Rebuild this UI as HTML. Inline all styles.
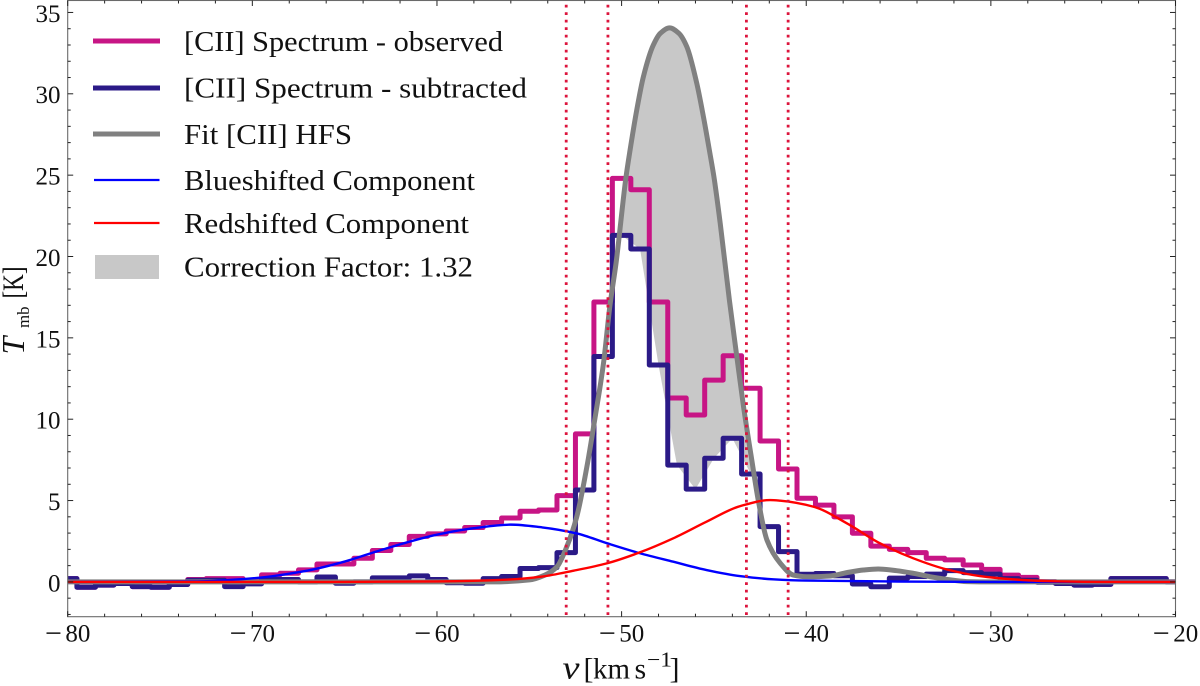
<!DOCTYPE html>
<html lang="en">
<head>
<meta charset="utf-8">
<title>[CII] spectrum with HFS fit</title>
<style>
html,body{margin:0;padding:0;background:#fff;width:1200px;height:686px;overflow:hidden}
svg{display:block}
text{font-family:"Liberation Serif",serif;fill:#111}
</style>
</head>
<body>
<svg id="chart" xmlns="http://www.w3.org/2000/svg" width="1200" height="686" viewBox="0 0 1200 686">
  <defs><clipPath id="plot-clip"><rect x="67.7" y="0.5" width="1107.8" height="616.2"/></clipPath></defs>
  <g id="plot" clip-path="url(#plot-clip)"></g>
  <g id="axes"></g>

  <g>
    <line x1="93" x2="160" y1="41" y2="41" stroke="#c71585" stroke-width="5"/>
    <line x1="93" x2="160" y1="88" y2="88" stroke="#2b1a87" stroke-width="5"/>
    <line x1="93" x2="160" y1="134" y2="134" stroke="#808080" stroke-width="5"/>
    <line x1="94" x2="159.5" y1="180" y2="180" stroke="#0000ff" stroke-width="2.3"/>
    <line x1="94" x2="159.5" y1="223" y2="223" stroke="#ff0000" stroke-width="2.3"/>
    <rect x="95" y="255" width="64" height="24" fill="#c8c8c8"/>
    <text x="184" y="51" font-size="29" textLength="319" lengthAdjust="spacingAndGlyphs">[CII] Spectrum - observed</text>
    <text x="184" y="97.3" font-size="29" textLength="343" lengthAdjust="spacingAndGlyphs">[CII] Spectrum - subtracted</text>
    <text x="184" y="144" font-size="29" textLength="168" lengthAdjust="spacingAndGlyphs">Fit [CII] HFS</text>
    <text x="184" y="190" font-size="29" textLength="291" lengthAdjust="spacingAndGlyphs">Blueshifted Component</text>
    <text x="184" y="233" font-size="29" textLength="285" lengthAdjust="spacingAndGlyphs">Redshifted Component</text>
    <text x="184" y="276.7" font-size="29" textLength="289" lengthAdjust="spacingAndGlyphs">Correction Factor: 1.32</text>
  </g>

  <g>
    <text transform="translate(24,354.5) rotate(-90)" font-size="32" font-style="italic">T</text>
    <text transform="translate(29,328) rotate(-90)" font-size="17" textLength="21.5" lengthAdjust="spacingAndGlyphs">mb</text>
    <text transform="translate(23,298.5) rotate(-90)" font-size="30" textLength="32" lengthAdjust="spacingAndGlyphs">[K]</text>
  </g>
  <g>
    <text x="562.5" y="678.3" font-size="33" font-style="italic" textLength="17" lengthAdjust="spacingAndGlyphs">v</text>
    <text x="583.5" y="678.3" font-size="30">[</text>
    <text x="593" y="678.3" font-size="30" textLength="37" lengthAdjust="spacingAndGlyphs">km</text>
    <text x="634.5" y="678.3" font-size="30">s</text>
    <text x="647" y="666.5" font-size="21" textLength="25" lengthAdjust="spacingAndGlyphs">−1</text>
    <text x="669.5" y="678.3" font-size="30">]</text>
  </g>
</svg>

<script>
// ---- chart data ----
const channelVelocity = [-80,-79,-78,-77,-76,-75,-74,-73,-72,-71,-70,-69,-68,-67,-66,-65,-64,-63,-62,-61,-60,-59,-58,-57,-56,-55,-54,-53,-52,-51,-50,-49,-48,-47,-46,-45,-44,-43,-42,-41,-40,-39,-38,-37,-36,-35,-34,-33,-32,-31,-30,-29,-28,-27,-26,-25,-24,-23,-22,-21,-20];
const observedTemp = [0.2,-0.33,-0.2,-0.1,-0.29,-0.33,-0.16,0.15,0.2,0.2,0.05,0.43,0.53,0.74,1.1,1.1,1.45,1.93,2.3,2.8,2.95,3.13,3.34,3.65,3.93,4.34,4.42,5.3,9.1,17.2,24.8,24.1,17.2,11.3,10.26,12.4,13.9,11.9,8.66,6.94,5.14,4.72,4.0,2.99,2.2,2.0,1.8,1.45,1.35,1.04,0.77,0.42,0.28,0.02,-0.1,-0.2,-0.15,0.2,0.2,0.2,0.0];
const subtractedTemp = [0.2,-0.33,-0.2,-0.1,-0.29,-0.33,-0.16,0.1,0.1,-0.29,-0.12,0.15,0.15,0.0,0.3,-0.08,0.0,0.25,0.25,0.37,0.15,-0.05,-0.08,0.2,0.33,0.82,0.88,1.8,5.65,13.85,21.3,20.46,13.33,7.18,5.7,7.6,8.83,6.63,3.4,1.86,0.47,0.52,0.38,-0.13,-0.3,0.23,0.33,0.48,0.69,0.57,0.48,0.2,0.1,-0.02,-0.1,-0.2,-0.15,0.2,0.2,0.2,0.0];
const fitVelocity = [-80,-57,-55,-54.15,-53.5,-52.97,-52.43,-51.88,-51.43,-50.98,-50.63,-50.3,-49.76,-49.54,-49.18,-48.82,-48.28,-47.9,-47.4,-46.9,-46.47,-45.93,-45.57,-45.21,-45,-44.66,-44.16,-43.76,-43.4,-42.95,-42.6,-42.13,-41.4,-40.7,-40,-39.6,-38.7,-37.8,-36.9,-36.1,-35.1,-34.2,-33.3,-32.4,-31.3,-30,-20];
const fitTemp = [0,0,0.12,0.42,0.93,2.16,4.0,7.08,10.15,13.44,17.0,19.6,24.9,26.55,29.0,31.05,33.0,33.72,34.05,33.72,32.9,30.65,28.6,26.3,24.9,22.05,17.3,13.85,10.8,7.5,5.03,2.58,1.14,0.42,0.32,0.32,0.36,0.57,0.73,0.79,0.69,0.53,0.32,0.16,0.02,0,0];
const blueVelocity = [-80,-73,-70,-67,-65,-63,-60,-58,-56,-54.3,-52.43,-50.8,-49,-47.2,-45.4,-43.6,-41.8,-40,-35,-30,-20];
const blueTemp = [0,0.03,0.22,0.7,1.25,1.97,2.9,3.3,3.52,3.35,2.98,2.38,1.76,1.24,0.73,0.36,0.16,0.08,0.02,0,0];
const redVelocity = [-80,-65,-60,-56,-54.3,-52.6,-50.8,-49,-47.2,-45.4,-43.6,-41.95,-41.4,-39.6,-37.8,-36,-34.2,-32.4,-30.6,-28.8,-27,-24,-20];
const redTemp = [0,0,0.03,0.15,0.33,0.69,1.14,1.82,2.68,3.7,4.65,5.03,4.99,4.62,3.6,2.37,1.45,0.77,0.36,0.16,0.05,0,0];
const markerVelocities = [-53.0,-50.74,-43.24,-40.98];
const xTickValues = [-80,-70,-60,-50,-40,-30,-20];
const xMinorTicks = [-78,-76,-74,-72,-68,-66,-64,-62,-58,-56,-54,-52,-48,-46,-44,-42,-38,-36,-34,-32,-28,-26,-24,-22];
const yTickValues = [0,5,10,15,20,25,30,35];
const yMinorTicks = [-2,-1,1,2,3,4,6,7,8,9,11,12,13,14,16,17,18,19,21,22,23,24,26,27,28,29,31,32,33,34];

// ---- axis functions ----
const X0 = 67.7, X1 = 1175.5, YTOP = 0.5, YBOT = 616.7;
const xScale = v => X0 + (v + 80) * (X1 - X0) / 60;
const yScale = t => 581.9 - t * 16.27;

const NS = 'http://www.w3.org/2000/svg';
const plot = document.getElementById('plot');
const axes = document.getElementById('axes');

function make(parent, tag, props) {
  const el = document.createElementNS(NS, tag);
  for (const k in props) el.setAttribute(k, props[k]);
  parent.appendChild(el);
  return el;
}

function stepPath(vs, ts) {
  let d = 'M' + xScale(vs[0]) + ' ' + yScale(ts[0]);
  for (let i = 1; i < vs.length; i++) {
    const mid = xScale((vs[i - 1] + vs[i]) / 2);
    d += 'L' + mid + ' ' + yScale(ts[i - 1]) + 'L' + mid + ' ' + yScale(ts[i]);
  }
  d += 'L' + xScale(vs[vs.length - 1]) + ' ' + yScale(ts[ts.length - 1]);
  return d;
}

function smoothPath(vs, ts) {
  const x = vs.map(xScale), y = ts.map(yScale), n = x.length;
  const s = [], m = new Array(n);
  for (let i = 0; i < n - 1; i++) s.push((y[i + 1] - y[i]) / (x[i + 1] - x[i]));
  m[0] = s[0]; m[n - 1] = s[n - 2];
  for (let i = 1; i < n - 1; i++) {
    if (s[i - 1] * s[i] <= 0) m[i] = 0;
    else {
      const h0 = x[i] - x[i - 1], h1 = x[i + 1] - x[i];
      m[i] = (h0 + h1) * 3 / ((2 * h1 + h0) / s[i - 1] + (h1 + 2 * h0) / s[i]);
    }
  }
  let d = 'M' + x[0] + ' ' + y[0];
  for (let i = 0; i < n - 1; i++) {
    const h = (x[i + 1] - x[i]) / 3;
    d += 'C' + (x[i] + h) + ' ' + (y[i] + m[i] * h) + ' ' + (x[i + 1] - h) + ' ' + (y[i + 1] - m[i + 1] * h) + ' ' + x[i + 1] + ' ' + y[i + 1];
  }
  return d;
}

function lerp(vs, ts, v) {
  for (let i = 1; i < vs.length; i++) {
    if (v <= vs[i]) return ts[i - 1] + (ts[i] - ts[i - 1]) * (v - vs[i - 1]) / (vs[i] - vs[i - 1]);
  }
  return ts[ts.length - 1];
}

// correction band: between the fit and the channel-to-channel subtracted spectrum, where the fit is higher
function correctionPath() {
  const grid = fitVelocity.concat(channelVelocity)
    .filter(v => v >= -50.1 && v <= -42.9)
    .sort((a, b) => a - b);
  const upper = [], lower = [];
  grid.forEach(v => {
    const f = lerp(fitVelocity, fitTemp, v);
    const s = lerp(channelVelocity, subtractedTemp, v);
    upper.push([xScale(v), yScale(Math.max(f, s))]);
    lower.push([xScale(v), yScale(Math.min(f, s))]);
  });
  return 'M' + upper.concat(lower.reverse()).map(p => p[0] + ' ' + p[1]).join('L') + 'Z';
}

// ---- marks ----
const band = make(plot, 'path', { d: correctionPath(), fill: '#c8c8c8', stroke: 'none' });



const obsLine = make(plot, 'path', { d: stepPath(channelVelocity, observedTemp), fill: 'none', stroke: '#c71585', 'stroke-width': 5, 'stroke-linejoin': 'round' });



const subLine = make(plot, 'path', { d: stepPath(channelVelocity, subtractedTemp), fill: 'none', stroke: '#2b1a87', 'stroke-width': 5, 'stroke-linejoin': 'round' });



const fitLine = make(plot, 'path', { d: smoothPath(fitVelocity, fitTemp), fill: 'none', stroke: '#808080', 'stroke-width': 5 });



const blueLine = make(plot, 'path', { d: smoothPath(blueVelocity, blueTemp), fill: 'none', stroke: '#0000ff', 'stroke-width': 2.4 });



const redLine = make(plot, 'path', { d: smoothPath(redVelocity, redTemp), fill: 'none', stroke: '#ff0000', 'stroke-width': 2.4 });



markerVelocities.forEach(v => {
  const m = make(plot, 'line', { x1: xScale(v), x2: xScale(v), y1: 0, y2: YBOT, stroke: '#dc143c', 'stroke-width': 2.8, 'stroke-dasharray': '2.8 4.7', 'stroke-dashoffset': 2.8 });
  
  
});

// ---- axes ----
const frame = make(axes, 'rect', { x: X0, y: YTOP, width: X1 - X0, height: YBOT - YTOP, fill: 'none', stroke: '#6a6a6a', 'stroke-width': 1.1 });



function xTick(v, len) {
  const x = xScale(v);
  const b = make(axes, 'line', { x1: x, x2: x, y1: YBOT, y2: YBOT - len, stroke: '#222', 'stroke-width': 1 });
  
  
  const t = make(axes, 'line', { x1: x, x2: x, y1: YTOP, y2: YTOP + len, stroke: '#222', 'stroke-width': 1 });
  
  
}
function yTick(v, len) {
  const y = yScale(v);
  const l = make(axes, 'line', { x1: X0, x2: X0 + len, y1: y, y2: y, stroke: '#222', 'stroke-width': 1 });
  
  
  const r = make(axes, 'line', { x1: X1, x2: X1 - len, y1: y, y2: y, stroke: '#222', 'stroke-width': 1 });
  
  
}
xMinorTicks.forEach(v => xTick(v, 3));
xTickValues.forEach(v => xTick(v, 5.5));
yMinorTicks.forEach(v => yTick(v, 3));
yTickValues.forEach(v => yTick(v, 5.5));

xTickValues.forEach(v => {
  const lab = make(axes, 'text', { x: xScale(v), y: 641.5, 'font-size': 25, 'text-anchor': 'middle' });
  
  
  const minus = make(lab, 'tspan', { 'font-size': 30, dy: 1.4 });
  minus.textContent = '\u2212';
  const digits = make(lab, 'tspan', { dx: 3.5, dy: -1.4 });
  digits.textContent = String(Math.abs(v));
});
yTickValues.forEach(v => {
  const lab = make(axes, 'text', { x: 60.5, y: yScale(v) + 9.4, 'font-size': 25, 'text-anchor': 'end' });
  
  
  lab.textContent = String(v);
});
</script>
</body>
</html>
